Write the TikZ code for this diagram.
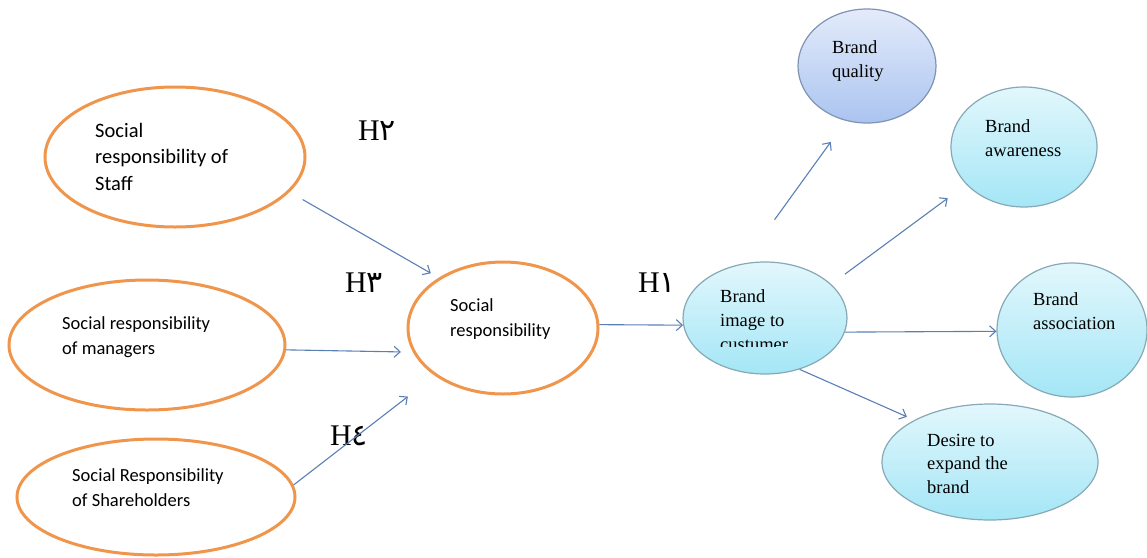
\documentclass[tikz,border=0pt]{standalone}
\usepackage{fontspec}
\setmainfont{Liberation Serif}
\newfontfamily\calib{Carlito}
\newfontfamily\arabicfont[Script=Arabic]{DejaVu Sans}
\usetikzlibrary{shapes.geometric,arrows.meta,calc}
\definecolor{orangeC}{HTML}{F0954C}
\definecolor{arrowC}{HTML}{5B7FB5}
\definecolor{cyanD}{HTML}{86A9B5}
\definecolor{cyanT}{HTML}{E2F7FC}
\definecolor{cyanBt}{HTML}{A4E6F6}
\definecolor{lavD}{HTML}{7F93B2}
\definecolor{lavT}{HTML}{E4EBFA}
\definecolor{lavBt}{HTML}{AAC4F0}
\tikzset{
  orangeell/.style={ellipse, draw=orangeC, line width=3pt, fill=white, inner sep=0pt},
  cyanell/.style={ellipse, draw=cyanD, line width=1.2pt, top color=cyanT, bottom color=cyanBt, inner sep=0pt},
  lavell/.style={ellipse, draw=lavD, line width=1.2pt, top color=lavT, bottom color=lavBt, inner sep=0pt},
  conn/.style={draw=arrowC, line width=1.1pt, -{Straight Barb[length=6pt,width=11pt]}},
  ltxt/.style={font=\calib\fontsize{18.5}{25}\selectfont, anchor=base west, align=left, inner sep=0pt},
  stxt/.style={font=\fontsize{18.5}{24}\selectfont, anchor=base west, align=left, inner sep=0pt},
  hlab/.style={font=\fontsize{30}{30}\selectfont, anchor=base west, inner sep=0pt}
}
\begin{document}
\begin{tikzpicture}[x=1pt,y=-1pt]
\useasboundingbox (0,0) rectangle (1147,557);
% left ellipses
\node[orangeell, minimum width=260pt, minimum height=140pt] (staff) at (175,157) {};
\node[orangeell, minimum width=276pt, minimum height=130pt] (mgr) at (147,345) {};
\node[orangeell, minimum width=278pt, minimum height=116pt] (share) at (156,497) {};
\node[orangeell, minimum width=190pt, minimum height=132pt] (sr) at (503,328) {};
% right ellipses
\node[cyanell, minimum width=164pt, minimum height=112pt] (img) at (765,318) {};
\node[lavell, minimum width=138pt, minimum height=114pt] (qual) at (867,66) {};
\node[cyanell, minimum width=146pt, minimum height=120pt] (aware) at (1024,147) {};
\node[cyanell, minimum width=150pt, minimum height=134pt] (assoc) at (1072,330) {};
\node[cyanell, minimum width=216pt, minimum height=116pt] (desire) at (990,462) {};
% texts (anchor = baseline of last line)
\node[ltxt, font=\calib\fontsize{20.5}{26.5}\selectfont] (tstaff) at (95,190) {Social\\responsibility of\\Staff};
\node[ltxt] (tmgr) at (62,354) {Social responsibility\\of managers};
\node[ltxt] (tshare) at (72,506) {Social Responsibility\\of Shareholders};
\node[ltxt] (tsr) at (450,336) {Social\\responsibility};
\begin{scope}
\clip (690,270) rectangle (840,346);
\node[stxt] (timg) at (720,350) {Brand\\image to\\custumer};
\end{scope}
\node[stxt] (tqual) at (832,77) {Brand\\quality};
\node[stxt] (taware) at (985,156) {Brand\\awareness};
\node[stxt] (tassoc) at (1033,329) {Brand\\association};
\node[stxt, font=\fontsize{18.5}{23.3}\selectfont] (tdesire) at (927,493) {Desire to\\expand the\\brand};
% hypothesis labels
\node[hlab] (h2) at (358,140) {H{\arabicfont ٢}};
\node[hlab] (h3) at (345,292) {H{\arabicfont ٣}};
\node[hlab] (h1) at (638,292) {H{\arabicfont ١}};
\node[hlab] (h4) at (330,445) {H{\arabicfont ٤}};
% connectors
\draw[conn, shorten <=15pt, shorten >=9pt] (staff.-17) -- (sr.142);
\draw[conn, shorten >=12pt] (mgr.-2) -- (sr.195);
\draw[conn, shorten >=34pt] (share.5) -- (sr.215);
\draw[conn] (sr.2) -- (img.185);
\draw[conn, shorten <=54pt, shorten >=26pt] (img.112) -- (qual.249);
\draw[conn, shorten <=17pt, shorten >=23pt] (img.27) -- (aware.213);
\draw[conn] (img.-10) -- (assoc.181);
\draw[conn, shorten >=8pt] (img.-56) -- (desire.151);
\end{tikzpicture}
\end{document}
